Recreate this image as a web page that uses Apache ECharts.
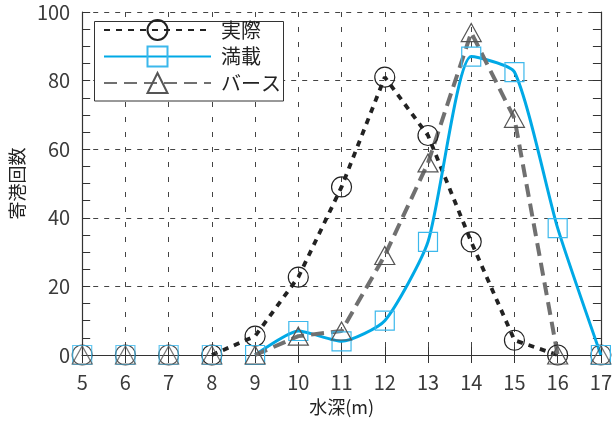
<!DOCTYPE html>
<html>
<head>
<meta charset="utf-8">
<script src="https://cdn.jsdelivr.net/npm/echarts@6/dist/echarts.min.js"></script>
<style>
  html, body { margin: 0; padding: 0; background: #fff; }
  #chart { width: 615px; height: 421px; }
</style>
</head>
<body>
<div id="chart"></div>
<script>
// 水深ごとの寄港回数
const depth = [5, 6, 7, 8, 9, 10, 11, 12, 13, 14, 15, 16, 17];
const actual = [0, 0, 0, 0, 5.5, 22.7, 49, 81, 64, 33, 4.3, 0, 0];      // 実際
const fullLoad = [0, 0, 0, 0, 0, 7, 4, 10, 33, 87, 82.5, 37, 0];       // 満載
const berth = [0, 0, 0, 0, 0, 5.5, 7, 29, 56, 94, 69, 0, 0];           // バース
// range of depths joined by each curve
const actualSpan = [8, 16];
const fullLoadSpan = [9, 17];
const berthSpan = [9, 16];
const yTicks = [0, 20, 40, 60, 80, 100];

const FONT = '"Noto Sans CJK JP", "Noto Sans", sans-serif';

function pairs(values, span, inside) {
  const out = [];
  depth.forEach((d, i) => {
    const inSpan = d >= span[0] && d <= span[1];
    if (inSpan === inside) out.push([d, values[i]]);
  });
  return out;
}

const styles = [
  { name: '実際', values: actual, span: actualSpan, smooth: false,
    line: { color: '#222', width: 3.8, type: [6, 6] },
    symbol: 'circle', size: 20, border: '#222' },
  { name: '満載', values: fullLoad, span: fullLoadSpan, smooth: 0.2,
    line: { color: '#00a9e6', width: 3, type: 'solid' },
    symbol: 'rect', size: 19, border: '#3cb8ec' },
  { name: 'バース', values: berth, span: berthSpan, smooth: false,
    line: { color: '#707070', width: 4, type: [13, 7] },
    symbol: 'triangle', size: [20, 18], border: '#555' }
];

const series = [];
styles.forEach(s => {
  const itemStyle = { color: 'transparent', borderColor: s.border, borderWidth: 1.2 };
  series.push({
    name: s.name,
    type: 'line',
    data: pairs(s.values, s.span, true),
    smooth: s.smooth,
    symbol: s.symbol,
    symbolSize: s.size,
    showAllSymbol: true,
    itemStyle: itemStyle,
    lineStyle: s.line,
    emphasis: { disabled: true },
    z: 3
  });
  series.push({
    name: s.name + '_0',
    type: 'scatter',
    data: pairs(s.values, s.span, false),
    symbol: s.symbol,
    symbolSize: s.size,
    itemStyle: itemStyle,
    emphasis: { disabled: true },
    z: 3
  });
});

const axisLine = { show: true, lineStyle: { color: '#333', width: 1.2 } };
const tick = { show: true, inside: true, length: 8, lineStyle: { color: '#333', width: 1 } };
const minorTick = { show: true, splitNumber: 4, length: 8, lineStyle: { color: '#333', width: 1 } };

const chart = echarts.init(document.getElementById('chart'), null, { renderer: 'canvas' });
chart.setOption({
  animation: false,
  backgroundColor: '#fff',
  textStyle: { fontFamily: FONT },
  grid: { left: 74, right: 10, top: 12, bottom: 66 },
  graphic: {
    elements: [{
      type: 'rect',
      z: 3,
      shape: { x: 94.5, y: 21.5, width: 189, height: 79.5 },
      style: { fill: '#fff', stroke: '#333', lineWidth: 1 }
    }]
  },
  legend: {
    data: styles.map(s => s.name),
    orient: 'vertical',
    left: 103,
    top: 19,
    padding: 0,
    itemWidth: 107,
    itemHeight: 25,
    itemGap: 4.5,
    z: 5,
    selectedMode: false,
    textStyle: { fontFamily: FONT, fontSize: 20, color: '#222', lineHeight: 22, padding: [0, 0, 0, 5] }
  },
  xAxis: [{
    type: 'value',
    min: depth[0], max: depth[depth.length - 1], interval: 1,
    name: '水深(m)',
    nameLocation: 'middle',
    nameGap: 43,
    nameTextStyle: { fontFamily: FONT, fontSize: 18, color: '#222' },
    axisLine: axisLine,
    axisTick: tick,
    axisLabel: { fontFamily: FONT, fontSize: 20, color: '#3a3a3a', margin: 17 },
    splitLine: { show: true, lineStyle: { color: '#444', width: 1, type: [5, 10] } }
  }, {
    type: 'value', position: 'top',
    min: depth[0], max: depth[depth.length - 1], interval: 1,
    axisLine: axisLine, axisTick: tick,
    axisLabel: { show: false }, splitLine: { show: false }
  }],
  yAxis: [{
    type: 'value',
    min: yTicks[0], max: yTicks[yTicks.length - 1], interval: yTicks[1] - yTicks[0],
    name: '寄港回数',
    nameLocation: 'middle',
    nameGap: 46,
    nameTextStyle: { fontFamily: FONT, fontSize: 18, color: '#222' },
    axisLine: axisLine,
    axisTick: tick,
    minorTick: minorTick,
    axisLabel: { fontFamily: FONT, fontSize: 20, color: '#3a3a3a', margin: 12 },
    splitLine: { show: true, lineStyle: { color: '#444', width: 1, type: [5, 6] } }
  }, {
    type: 'value', position: 'right',
    min: yTicks[0], max: yTicks[yTicks.length - 1], interval: yTicks[1] - yTicks[0],
    axisLine: axisLine, axisTick: tick, minorTick: minorTick,
    axisLabel: { show: false }, splitLine: { show: false }
  }],
  series: series
});
</script>
</body>
</html>
